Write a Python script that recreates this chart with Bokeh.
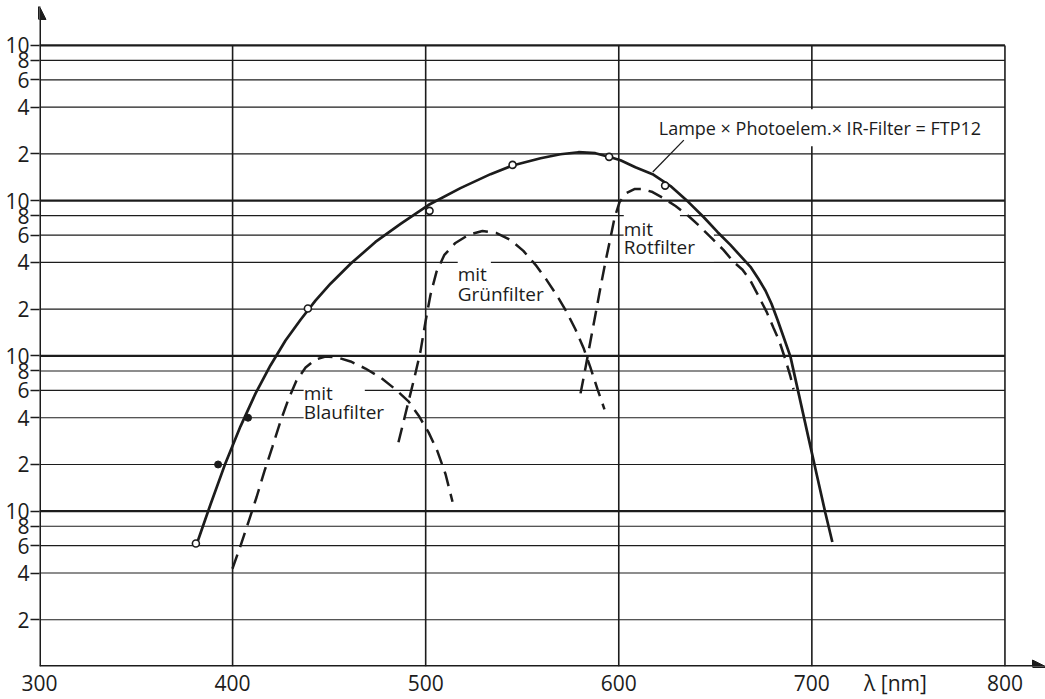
from bokeh.plotting import figure
from bokeh.models import Range1d, FixedTicker, Arrow, NormalHead
from bokeh.embed import file_html
from bokeh.resources import INLINE
from bokeh.core.properties import value

# ---------------- data ----------------
wl_ticks = [300, 400, 500, 600, 700, 800]
wl_axis_title = "λ [nm]"
wl_axis_title_pos = 743.3
y_ticks = [2, 4, 6, 8, 10, 20, 40, 60, 80, 100, 200, 400, 600, 800, 1000,
           2000, 4000, 6000, 8000, 10000]
y_tick_labels = ["2", "4", "6", "8", "10"] * 4
decade_lines = [10, 100, 1000, 10000]

# Lampe x Photoelem. x IR-Filter = FTP12 (solid curve)
ftp_x = [381.8, 388.6, 396.3, 404.1, 411.9, 419.6, 427.4, 435.2, 442.9, 450.7, 461.1,
         474.0, 487.0, 501.4, 518.0, 533.6, 545.5, 559.5, 569.8, 579.1, 587.9, 595.7,
         600.9, 608.6, 617.5, 626.8, 636.1, 643.9, 651.1, 657.8, 663.0, 668.2, 672.3,
         676.0, 679.1, 682.2, 685.3, 688.9, 693.6, 698.2, 702.8, 707.0, 710.6]
ftp_y = [6.34, 11.1, 20.4, 35.2, 57.4, 86.8, 125.6, 171, 227, 292, 392,
         542, 708, 937, 1204, 1482, 1692, 1877, 1991, 2051, 2021, 1905,
         1822, 1643, 1482, 1241, 979, 785, 629, 519, 441, 375, 314,
         263, 217, 171, 133, 99, 54.1, 29.9, 16.6, 9.74, 6.34]

# measured points
open_x = [381, 439, 502, 545, 595, 624]
open_y = [6.2, 202, 860, 1700, 1915, 1250]
dot_x = [392.5, 408]
dot_y = [20, 40]

# mit Blaufilter
blau_x = [399.9, 404.1, 408.2, 412.4, 416.5, 420.7, 424.8, 428.9, 433.1, 437.8, 442.9,
          448.1, 454.3, 461.1, 468.8, 476.6, 484.4, 491.1, 496.3, 501.5, 506.1, 510.3, 513.9]
blau_y = [4.26, 5.98, 8.52, 12.3, 18.1, 26.2, 37.9, 52.5, 69.5, 84.2, 94.8,
          99.1, 97.7, 92.1, 83.0, 72.7, 60.9, 51.0, 41.4, 32.2, 24.3, 17.3, 11.5]

# mit Grünfilter
gruen_x = [485.9, 490.1, 494.2, 497.3, 499.9, 502.5, 505.6, 509.7, 515.4, 522.2, 529.4,
           536.7, 543.9, 550.6, 556.9, 562.6, 567.7, 572.9, 577.6, 581.7, 585.3, 589.0, 592.6]
gruen_y = [27.8, 45.3, 72.7, 107, 166, 248, 348, 448, 534, 602, 638,
           619, 559, 475, 386, 309, 248, 193, 148, 113, 84.3, 60.9, 45.3]

# mit Rotfilter
rot_x = [580.2, 582.8, 585.3, 587.9, 590.5, 593.1, 595.7, 597.8, 600.4, 604.0, 608.1,
         612.3, 617.5, 623.1, 629.4, 636.1, 642.3, 648.5, 654.2, 659.4, 664.1, 668.2,
         672.3, 676.5, 680.1, 683.2, 686.3, 688.9, 690.5]
rot_y = [57.4, 84.3, 124, 184, 275, 404, 575, 773, 980, 1119, 1187,
         1187, 1136, 1039, 923, 797, 677, 567, 482, 404, 359, 305,
         244, 193, 152, 124, 94.8, 73.8, 60.9]

# leader line of the curve caption
leader_x = [633.7, 617.6]
leader_y = [2455, 1530]

X_END = 821
Y_MIN, Y_TOP = 1, 17800

INK = "#1c1c1c"
FONT = "Open Sans"

p = figure(width=1045, height=699, x_range=Range1d(wl_ticks[0], X_END),
           y_range=Range1d(Y_MIN, Y_TOP), y_axis_type="log",
           output_backend="svg", toolbar_location=None,
           min_border_left=39, min_border_bottom=31, min_border_top=6,
           min_border_right=0)
p.outline_line_color = None
p.background_fill_color = "white"
p.border_fill_color = "white"
p.xgrid.visible = False
p.ygrid.visible = False

# axes
p.xaxis.ticker = FixedTicker(ticks=wl_ticks + [wl_axis_title_pos])
p.xaxis.major_label_overrides = {wl_axis_title_pos: wl_axis_title}
p.yaxis.ticker = FixedTicker(ticks=y_ticks)
p.yaxis.major_label_overrides = dict(zip(y_ticks, y_tick_labels))
for ax in (p.xaxis, p.yaxis):
    ax.axis_line_color = None
    ax.major_tick_line_color = INK
    ax.major_tick_line_width = 1.4
    ax.minor_tick_line_color = None
    ax.major_tick_in = 0
    ax.major_label_text_font = FONT
    ax.major_label_text_font_size = "21px"
    ax.major_label_text_color = INK
p.xaxis.major_tick_line_color = None
p.xaxis.major_tick_out = 0
p.xaxis.major_label_standoff = 2
p.yaxis.major_tick_out = 9
p.yaxis.major_label_standoff = 1

# grid lines
minor_levels = [t for t in y_ticks if t not in decade_lines]
p.segment(x0=wl_ticks[0], x1=wl_ticks[-1], y0=minor_levels, y1=minor_levels,
          line_color=INK, line_width=1.2, level="underlay")
p.segment(x0=wl_ticks[0], x1=wl_ticks[-1], y0=decade_lines, y1=decade_lines,
          line_color=INK, line_width=2.2, level="underlay")
p.segment(x0=wl_ticks[1:], x1=wl_ticks[1:], y0=Y_MIN, y1=decade_lines[-1],
          line_color=INK, line_width=1.6, level="underlay")

# captions with white knock-out boxes (boxes first, then the texts)
captions = [
    (436.8, 57.9, "mit", dict(left=10, right=22, top=1, bottom=1), "19px"),
    (436.8, 43.4, "Blaufilter", dict(left=11, right=9, top=1, bottom=1), "19px"),
    (516.6, 338.7, "mit", dict(left=2, right=2, top=0, bottom=0), "19px"),
    (516.6, 250, "Grünfilter", dict(left=2, right=2, top=0, bottom=0), "19px"),
    (602.6, 658.5, "mit", dict(left=20, right=7, top=1, bottom=1), "19px"),
    (602.6, 501, "Rotfilter", dict(left=16, right=3, top=1, bottom=1), "19px"),
    (620.7, 2952, "Lampe × Photoelem.× IR-Filter = FTP12",
     dict(left=3, right=3, top=3, bottom=10), "18px"),
]
for x, y, txt, pad, size in captions:
    p.text(x=[x], y=[y], text=[txt], text_font=value(FONT), text_font_size=size,
           text_alpha=0, text_baseline="middle", text_align="left",
           background_fill_color="white", padding=pad)
for x, y, txt, pad, size in captions:
    p.text(x=[x], y=[y], text=[txt], text_font=value(FONT), text_font_size=size,
           text_color=INK, text_baseline="middle", text_align="left")

p.line(leader_x, leader_y, line_color=INK, line_width=1.3)

# curves
p.line(ftp_x, ftp_y, line_color=INK, line_width=2.7)
DASH = "15 8"
p.line(blau_x, blau_y, line_color=INK, line_width=2.5, line_dash=DASH)
p.line(gruen_x, gruen_y, line_color=INK, line_width=2.5, line_dash=DASH)
p.line(rot_x, rot_y, line_color=INK, line_width=2.5, line_dash=DASH)

p.scatter(open_x, open_y, marker="circle", size=7, fill_color="white",
          line_color=INK, line_width=1.6)
p.scatter(dot_x, dot_y, marker="circle", size=7, fill_color=INK,
          line_color=INK, line_width=1)

# axis arrows
p.add_layout(Arrow(end=NormalHead(size=13, fill_color=INK, line_color=INK),
                   x_start=wl_ticks[0], y_start=Y_MIN, x_end=wl_ticks[0], y_end=Y_TOP,
                   line_color=INK, line_width=3))
p.add_layout(Arrow(end=NormalHead(size=13, fill_color=INK, line_color=INK),
                   x_start=wl_ticks[0], y_start=Y_MIN, x_end=X_END, y_end=Y_MIN,
                   line_color=INK, line_width=3))

open("out.html", "w").write(file_html(p, INLINE))
